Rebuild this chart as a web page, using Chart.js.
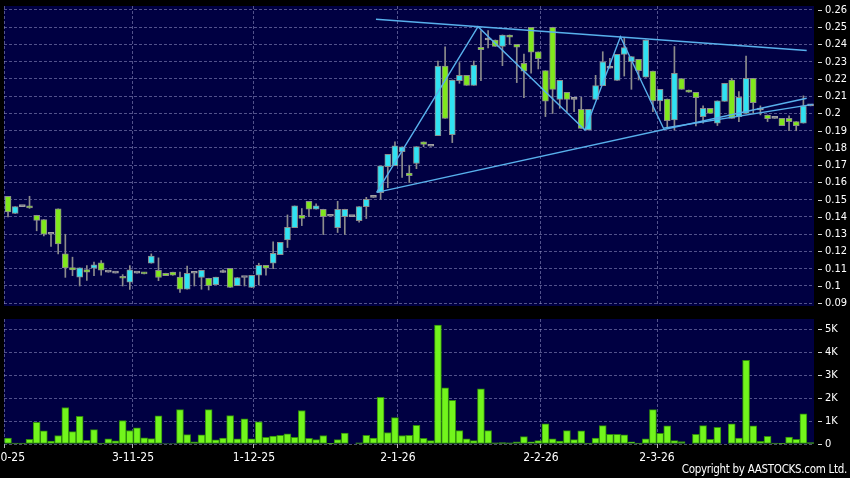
<!DOCTYPE html>
<html>
<head>
<meta charset="utf-8">
<script src="https://cdn.jsdelivr.net/npm/chart.js@4.4.1/dist/chart.umd.min.js"></script>
<style>
  html, body { margin: 0; padding: 0; background: #000; }
  #wrap { position: relative; width: 850px; height: 478px; overflow: hidden; background: #000; }
  #priceBox { position: absolute; left: 0; top: 0; width: 850px; height: 310px; }
  #volBox { position: absolute; left: 0; top: 310px; width: 850px; height: 168px; }
  #copy { position: absolute; right: 3px; top: 462px; color: #fff; letter-spacing: -0.3px;
          font: 11.5px 'DejaVu Sans Condensed', 'DejaVu Sans', sans-serif; white-space: nowrap; }
</style>
</head>
<body>
<div id="wrap">
  <div id="priceBox"><canvas id="priceChart"></canvas></div>
  <div id="volBox"><canvas id="volChart"></canvas></div>
  <div id="copy">Copyright by AASTOCKS.com Ltd.</div>
</div>
<script>
// daily candles, oldest first (one per trading session shown)
const opens = [
  0.152, 0.142, 0.146, 0.1464, 0.141, 0.1385, 0.130, 0.1447, 0.1186, 0.1107,
  0.1051, 0.1095, 0.1103, 0.1134, 0.108, 0.1075, 0.1056, 0.1022, 0.1075, 0.1078,
  0.1132, 0.1091, 0.1074, 0.108, 0.1051, 0.0981, 0.1074, 0.1049, 0.1045, 0.1008,
  0.1078, 0.1103, 0.1002, 0.1049, 0.0991, 0.1062, 0.112, 0.1132, 0.1182, 0.1267,
  0.1338, 0.141, 0.1491, 0.1445, 0.1445, 0.1404, 0.1338, 0.1402, 0.1402, 0.1379,
  0.146, 0.1514, 0.1541, 0.1692, 0.1698, 0.1779, 0.1655, 0.171, 0.1835, 0.181,
  0.1872, 0.2275, 0.1877, 0.219, 0.2221, 0.2163, 0.2384, 0.2426, 0.2426, 0.2389,
  0.2455, 0.2401, 0.2291, 0.250, 0.2357, 0.2248, 0.250, 0.2082, 0.2123, 0.2082,
  0.2024, 0.1904, 0.2082, 0.2161, 0.2262, 0.2192, 0.2343, 0.2301, 0.2314, 0.221,
  0.2246, 0.2073, 0.2084, 0.1963, 0.2202, 0.2136, 0.2123, 0.1982, 0.203, 0.1944,
  0.207, 0.2194, 0.1982, 0.2001, 0.2204, 0.202, 0.1991, 0.1972, 0.1972, 0.1972,
  0.1953, 0.1944, 0.2044
];
const highs = [
  0.152, 0.146, 0.146, 0.152, 0.141, 0.1385, 0.130, 0.1447, 0.130, 0.1167,
  0.1105, 0.1118, 0.1138, 0.1147, 0.108, 0.1075, 0.1066, 0.1118, 0.1075, 0.1078,
  0.1186, 0.1163, 0.1074, 0.108, 0.108, 0.1116, 0.1074, 0.1091, 0.1045, 0.1051,
  0.1093, 0.1103, 0.1049, 0.1049, 0.1062, 0.1132, 0.112, 0.1256, 0.1253, 0.1412,
  0.1464, 0.1449, 0.1491, 0.1476, 0.1445, 0.1404, 0.1491, 0.1445, 0.1402, 0.146,
  0.1514, 0.1514, 0.1696, 0.1763, 0.1835, 0.1806, 0.170, 0.1808, 0.1835, 0.181,
  0.2304, 0.2386, 0.2194, 0.2295, 0.2221, 0.2304, 0.248, 0.248, 0.2426, 0.2455,
  0.2455, 0.2401, 0.2345, 0.250, 0.2357, 0.2248, 0.250, 0.2192, 0.2123, 0.2082,
  0.2094, 0.2024, 0.2221, 0.2358, 0.232, 0.2343, 0.2436, 0.233, 0.2314, 0.2426,
  0.2246, 0.214, 0.2084, 0.2388, 0.2202, 0.2136, 0.2123, 0.2044, 0.203, 0.2073,
  0.2175, 0.2204, 0.2127, 0.2333, 0.2204, 0.2044, 0.1991, 0.1972, 0.1972, 0.1986,
  0.1953, 0.2102, 0.2044
];
const lows = [
  0.140, 0.142, 0.146, 0.145, 0.132, 0.129, 0.123, 0.1186, 0.105, 0.106,
  0.100, 0.1033, 0.106, 0.1062, 0.108, 0.1075, 0.100, 0.098, 0.1075, 0.107,
  0.1132, 0.1031, 0.106, 0.1062, 0.0962, 0.0981, 0.100, 0.0981, 0.0977, 0.1008,
  0.1078, 0.0991, 0.1002, 0.100, 0.0991, 0.1006, 0.1062, 0.110, 0.1182, 0.1223,
  0.1338, 0.135, 0.1402, 0.1445, 0.1298, 0.1404, 0.131, 0.1298, 0.1402, 0.137,
  0.1391, 0.1514, 0.1503, 0.157, 0.1698, 0.163, 0.160, 0.168, 0.1808, 0.181,
  0.1872, 0.1972, 0.1831, 0.2175, 0.2163, 0.2163, 0.219, 0.238, 0.2389, 0.2277,
  0.240, 0.2179, 0.2092, 0.2233, 0.2258, 0.1982, 0.200, 0.203, 0.2011, 0.2011,
  0.1914, 0.1904, 0.2082, 0.2161, 0.2262, 0.2192, 0.2217, 0.214, 0.2194, 0.221,
  0.2011, 0.2015, 0.1914, 0.1904, 0.214, 0.2123, 0.1928, 0.1944, 0.2001, 0.193,
  0.207, 0.1972, 0.1953, 0.2001, 0.2001, 0.1992, 0.1953, 0.1972, 0.193, 0.190,
  0.190, 0.1944, 0.2044
];
const closes = [
  0.143, 0.146, 0.146, 0.1452, 0.138, 0.130, 0.130, 0.1244, 0.1105, 0.1093,
  0.1105, 0.108, 0.1122, 0.1091, 0.108, 0.1075, 0.1045, 0.1093, 0.1075, 0.107,
  0.1174, 0.1049, 0.106, 0.1062, 0.0981, 0.1074, 0.1074, 0.1091, 0.1002, 0.1051,
  0.1078, 0.0991, 0.1049, 0.1049, 0.1062, 0.112, 0.1103, 0.119, 0.1253, 0.134,
  0.1464, 0.1391, 0.1445, 0.1464, 0.1402, 0.1404, 0.1445, 0.1445, 0.1402, 0.146,
  0.1503, 0.1514, 0.1696, 0.1763, 0.1812, 0.1806, 0.164, 0.1808, 0.182, 0.181,
  0.2275, 0.1972, 0.2194, 0.2221, 0.2163, 0.2281, 0.237, 0.2426, 0.2389, 0.2455,
  0.2442, 0.2384, 0.2245, 0.2355, 0.2318, 0.2071, 0.214, 0.2192, 0.2082, 0.2082,
  0.1914, 0.2024, 0.2161, 0.230, 0.2262, 0.2343, 0.2382, 0.233, 0.2248, 0.2426,
  0.2073, 0.214, 0.1959, 0.2233, 0.214, 0.2123, 0.2092, 0.203, 0.2001, 0.2073,
  0.2175, 0.1972, 0.2094, 0.2204, 0.2063, 0.202, 0.197, 0.1972, 0.193, 0.1953,
  0.193, 0.2044, 0.2044
];
// shares traded per session
const volumes = [
  260, 40, 40, 200, 940, 570, 130, 370, 1590, 540,
  1210, 160, 630, 40, 230, 140, 1020, 590, 700, 270,
  240, 1230, 20, 20, 1500, 410, 90, 400, 1500, 180,
  260, 1240, 230, 1100, 230, 970, 290, 350, 380, 440,
  290, 1460, 250, 190, 370, 30, 190, 480, 0, 50,
  380, 260, 2030, 500, 1150, 370, 380, 810, 250, 150,
  5190, 2450, 1900, 580, 230, 150, 2400, 580, 50, 60,
  50, 90, 320, 100, 150, 880, 230, 130, 580, 190,
  570, 40, 260, 800, 420, 420, 400, 100, 40, 230,
  1500, 470, 790, 150, 110, 0, 420, 800, 200, 730,
  0, 880, 260, 3650, 790, 120, 330, 40, 30, 300,
  200, 1310, 60
];

// x-axis date ticks (value = session index where the month gridline sits)
const dateLabels = ['2-10-25', '3-11-25', '1-12-25', '2-1-26', '2-2-26', '2-3-26'];
const dateTickPos = [-0.56, 17.44, 34.32, 54.42, 74.38, 90.57];
const priceTicks = [0.09, 0.10, 0.11, 0.12, 0.13, 0.14, 0.15, 0.16, 0.17, 0.18,
                    0.19, 0.20, 0.21, 0.22, 0.23, 0.24, 0.25, 0.26];
const volTicks = [0, 1000, 2000, 3000, 4000, 5000];

// hand drawn trend lines, [session index, price]
const upperLine = [[51.35, 0.2546], [111.46, 0.2365]];
const lowerLine = [[51.45, 0.1543], [111.46, 0.2088]];
const waveLine = [[51.45, 0.1543], [65.59, 0.2503], [80.52, 0.1904], [85.47, 0.2445],
                  [91.47, 0.1914], [112.3, 0.2053]];

// --- styles ---
Chart.defaults.font.family = "'DejaVu Sans Condensed', 'DejaVu Sans', sans-serif";
Chart.defaults.color = '#ffffff';
const plotFill = '#000042';
const gridColor = 'rgba(150,150,200,0.55)';
const upFill = '#30e2f2';
const downFill = '#80e81c';
const flatFill = '#a0a0a0';
const edgeColor = '#8c8c8c';
const trendColor = '#58b0ec';

const xMin = -0.56, xMax = 112.48;

const plotBg = {
  id: 'plotBg',
  beforeDraw(chart) {
    const { ctx, chartArea: a } = chart;
    ctx.save();
    ctx.fillStyle = plotFill;
    ctx.fillRect(a.left, a.top, a.right - a.left, a.bottom - a.top);
    ctx.restore();
  }
};

// small dash in front of each value label on the right axis
const axisDash = {
  id: 'axisDash',
  afterDraw(chart) {
    const { ctx, chartArea: a } = chart;
    const y = chart.scales.y;
    ctx.save();
    ctx.strokeStyle = '#d8d8d8';
    ctx.lineWidth = 1;
    y.ticks.forEach(t => {
      const py = Math.round(y.getPixelForValue(t.value)) + 0.5;
      ctx.beginPath();
      ctx.moveTo(a.right + 4, py);
      ctx.lineTo(a.right + 8, py);
      ctx.stroke();
    });
    ctx.restore();
  }
};

function bodyColor(i) {
  if (closes[i] > opens[i]) return upFill;
  if (closes[i] < opens[i]) return downFill;
  return flatFill;
}

function trendSet(points) {
  return {
    type: 'line',
    data: points.map(p => ({ x: p[0], y: p[1] })),
    borderColor: trendColor,
    borderWidth: 1.4,
    pointRadius: 0,
    fill: false,
    tension: 0,
    order: 0
  };
}

const dateXAxis = (showLabels) => ({
  type: 'linear',
  min: xMin,
  max: xMax,
  offset: false,
  grid: { color: gridColor, offset: false, drawTicks: showLabels, tickLength: 4,
          tickColor: '#b0b0b0', tickBorderDash: [] },
  border: { display: false, dash: [3, 2] },
  ticks: { display: showLabels, color: '#fff', font: { size: 12 }, padding: 3,
           maxRotation: 0, autoSkip: false, callback: (v, i) => dateLabels[i] },
  afterBuildTicks: s => { s.ticks = dateTickPos.map(v => ({ value: v })); },
  afterFit: s => { s.height = showLabels ? 34 : 0; s.paddingLeft = 0; s.paddingRight = 0; }
});

const valueYAxis = (min, max, values, fmt) => ({
  position: 'right',
  min: min,
  max: max,
  grid: { color: gridColor, drawTicks: false },
  border: { display: false, dash: [3, 2] },
  ticks: { color: '#fff', font: { size: 11 }, padding: 11, callback: fmt },
  afterBuildTicks: s => { s.ticks = values.map(v => ({ value: v })); },
  afterFit: s => { s.width = 36; s.paddingTop = 0; s.paddingBottom = 0; }
});

// --- price chart ---
new Chart(document.getElementById('priceChart'), {
  type: 'bar',
  data: {
    datasets: [
      trendSet(upperLine),
      trendSet(lowerLine),
      trendSet(waveLine),
      {
        // candle bodies
        data: opens.map((o, i) => ({ x: i, y: [o, closes[i]] })),
        backgroundColor: ctx => bodyColor(ctx.dataIndex),
        borderColor: ctx => closes[ctx.dataIndex] === opens[ctx.dataIndex] ? flatFill : edgeColor,
        borderWidth: 1,
        borderSkipped: false,
        barThickness: 6,
        minBarLength: 2,
        grouped: false,
        order: 1
      },
      {
        // wicks
        data: lows.map((l, i) => ({ x: i, y: [l, highs[i]] })),
        backgroundColor: edgeColor,
        borderWidth: 0,
        barThickness: 1,
        grouped: false,
        order: 2
      }
    ]
  },
  options: {
    responsive: true,
    maintainAspectRatio: false,
    animation: false,
    layout: { padding: { left: 4, top: 6, bottom: 4, right: 0 } },
    plugins: { legend: { display: false }, tooltip: { enabled: false } },
    scales: {
      x: dateXAxis(false),
      y: valueYAxis(0.0884, 0.2623, priceTicks, v => String(+v.toFixed(2)))
    }
  },
  plugins: [plotBg, axisDash]
});

// --- volume chart ---
new Chart(document.getElementById('volChart'), {
  type: 'bar',
  data: {
    datasets: [{
      data: volumes.map((v, i) => ({ x: i, y: v })),
      backgroundColor: '#72f51c',
      borderColor: '#2f8a0c',
      borderWidth: 1,
      borderSkipped: false,
      barThickness: 7,
      grouped: false
    }]
  },
  options: {
    responsive: true,
    maintainAspectRatio: false,
    animation: false,
    layout: { padding: { left: 4, top: 9, bottom: 0, right: 0 } },
    plugins: { legend: { display: false }, tooltip: { enabled: false } },
    scales: {
      x: dateXAxis(true),
      y: valueYAxis(0, 5450, volTicks, v => v === 0 ? '0' : (v / 1000) + 'K')
    }
  },
  plugins: [plotBg, axisDash]
});
</script>
</body>
</html>
